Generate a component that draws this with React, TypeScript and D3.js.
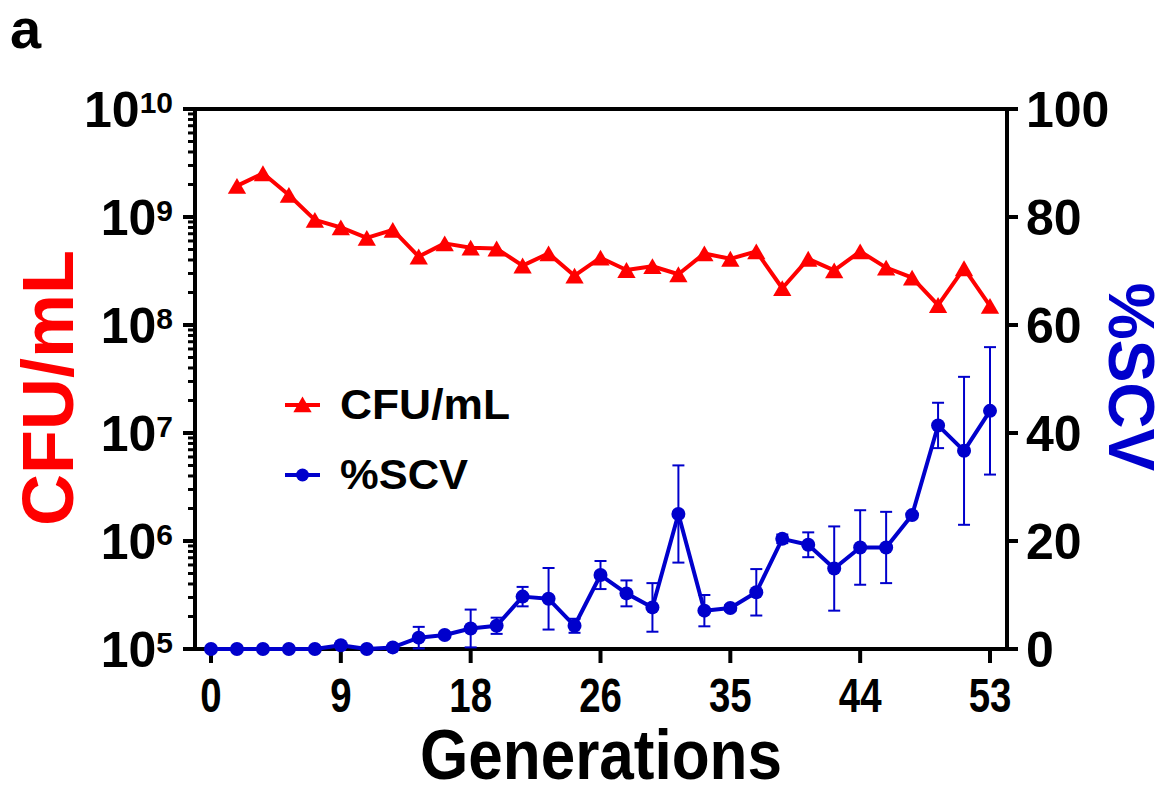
import React from "react";
import * as d3 from "d3";

const W = 1166;
const H = 801;

// samples are evenly spaced; every 5th sample gets a generation label
const tickIndex = [0, 5, 10, 15, 20, 25, 30];
const tickGen = ["0", "9", "18", "26", "35", "44", "53"];

// CFU/mL for samples 1..30
const cfu = [
  1.94e9, 2.54e9, 1.6e9, 9.4e8, 8.0e8, 6.4e8, 7.6e8, 4.3e8, 5.7e8, 5.2e8,
  5.1e8, 3.55e8, 4.6e8, 2.86e8, 4.2e8, 3.23e8, 3.5e8, 2.95e8, 4.6e8, 4.1e8,
  4.8e8, 2.19e8, 4.1e8, 3.2e8, 4.8e8, 3.4e8, 2.74e8, 1.53e8, 3.35e8, 1.5e8,
];

// %SCV mean and error for samples 0..30
const scv = [
  0, 0, 0, 0, 0, 0.7, 0, 0.3, 2.1, 2.6, 3.8, 4.3, 9.7, 9.3, 4.3, 13.7,
  10.3, 7.7, 25.0, 7.1, 7.6, 10.5, 20.4, 19.3, 14.9, 18.8, 18.8, 24.8, 41.4, 36.7, 44.1,
];
const scvErr = [
  0, 0, 0, 0, 0, 0, 0, 0, 2.0, 0.4, 3.5, 1.5, 1.8, 5.7, 1.3, 2.6,
  2.4, 4.5, 9.0, 2.9, 0.5, 4.3, 0.8, 2.3, 7.8, 6.9, 6.6, 0, 4.2, 13.7, 11.8,
];

const cfuExp = [5, 6, 7, 8, 9, 10];
const scvTicks = [0, 20, 40, 60, 80, 100];

const RED = "#ff0000";
const BLUE = "#0000cc";
const FONT = "'Liberation Sans', Arial, sans-serif";

const left = 195, right = 1007, top = 109, bottom = 649;

export default function App() {
  const x = d3.scaleLinear().domain([0, 30]).range([211, 990]);
  const yL = d3.scaleLog().domain([1e5, 1e10]).range([bottom, top]);
  const yR = d3.scaleLinear().domain([0, 100]).range([bottom, top]);

  const minor: number[] = [];
  cfuExp.slice(0, -1).forEach((e) => {
    for (let m = 2; m <= 9; m++) minor.push(m * Math.pow(10, e));
  });

  const cfuLine = d3.line<number>()
    .x((_, i) => x(i + 1))
    .y((d) => yL(d))(cfu);
  const scvLine = d3.line<number>()
    .x((_, i) => x(i))
    .y((d) => yR(d))(scv);

  const tri = d3.symbol(d3.symbolTriangle, 145)() as string;

  return (
    <div>
      <style>{`body{margin:0}`}</style>
      <svg width={W} height={H} style={{ display: "block" }} fontFamily={FONT} fontWeight="bold">
        <rect width={W} height={H} fill="#fff" />
        <text x={10} y={48} fontSize={56}>a</text>

        {/* frame */}
        <rect x={left} y={top} width={right - left} height={bottom - top} fill="none" stroke="#000" strokeWidth={4} />

        {/* left log axis */}
        {minor.map((v) => (
          <line key={"m" + v} x1={left - 7} x2={left} y1={yL(v)} y2={yL(v)} stroke="#000" strokeWidth={3} />
        ))}
        {cfuExp.map((e) => {
          const y = yL(Math.pow(10, e));
          return (
            <g key={"l" + e}>
              <line x1={left - 12} x2={left} y1={y} y2={y} stroke="#000" strokeWidth={4} />
              <text x={173} y={y + 18} textAnchor="end">
                <tspan fontSize={50}>10</tspan>
                <tspan fontSize={30} dy={-14}>{e}</tspan>
              </text>
            </g>
          );
        })}

        {/* right axis */}
        {scvTicks.map((t) => (
          <g key={"r" + t}>
            <line x1={right} x2={right + 11} y1={yR(t)} y2={yR(t)} stroke="#000" strokeWidth={4} />
            <text x={1026} y={yR(t) + 18} fontSize={50}>{t}</text>
          </g>
        ))}

        {/* bottom axis */}
        {tickIndex.map((t, i) => (
          <g key={"b" + t}>
            <line x1={x(t)} x2={x(t)} y1={bottom} y2={bottom + 14} stroke="#000" strokeWidth={4} />
            <text transform={`translate(${x(t)},712) scale(0.8,1)`} textAnchor="middle" fontSize={48}>{tickGen[i]}</text>
          </g>
        ))}

        <text x={601} y={779} textAnchor="middle" fontSize={70}
          textLength={362} lengthAdjust="spacingAndGlyphs">Generations</text>
        <text transform="translate(73,388) rotate(-90)" textAnchor="middle" fontSize={72} fill={RED}>CFU/mL</text>
        <text transform="translate(1109,377) rotate(90)" textAnchor="middle" fontSize={64} fill={BLUE}>%SCV</text>

        {/* CFU series */}
        <path d={cfuLine ?? ""} fill="none" stroke={RED} strokeWidth={4} strokeLinejoin="round" />
        {cfu.map((v, i) => (
          <path key={"t" + i} d={tri} fill={RED} transform={`translate(${x(i + 1)},${yL(v) + 2.6})`} />
        ))}

        {/* SCV series */}
        <path d={scvLine ?? ""} fill="none" stroke={BLUE} strokeWidth={4} strokeLinejoin="round" />
        {scv.map((v, i) => {
          const e = scvErr[i];
          if (!e) return null;
          const cx = x(i);
          return (
            <g key={"e" + i} stroke={BLUE} strokeWidth={2}>
              <line x1={cx} x2={cx} y1={yR(v - e)} y2={yR(v + e)} />
              <line x1={cx - 6} x2={cx + 6} y1={yR(v + e)} y2={yR(v + e)} />
              <line x1={cx - 6} x2={cx + 6} y1={yR(v - e)} y2={yR(v - e)} />
            </g>
          );
        })}
        {scv.map((v, i) => (
          <circle key={"c" + i} cx={x(i)} cy={yR(v)} r={7} fill={BLUE} />
        ))}

        {/* legend */}
        <line x1={285} x2={320} y1={405} y2={405} stroke={RED} strokeWidth={4} />
        <path d={tri} fill={RED} transform="translate(302.5,407)" />
        <text x={340} y={419} fontSize={42} textLength={170} lengthAdjust="spacingAndGlyphs">CFU/mL</text>
        <line x1={285} x2={320} y1={475} y2={475} stroke={BLUE} strokeWidth={4} />
        <circle cx={302.5} cy={475} r={6.5} fill={BLUE} />
        <text x={340} y={489} fontSize={42} textLength={128} lengthAdjust="spacingAndGlyphs">%SCV</text>
      </svg>
    </div>
  );
}
